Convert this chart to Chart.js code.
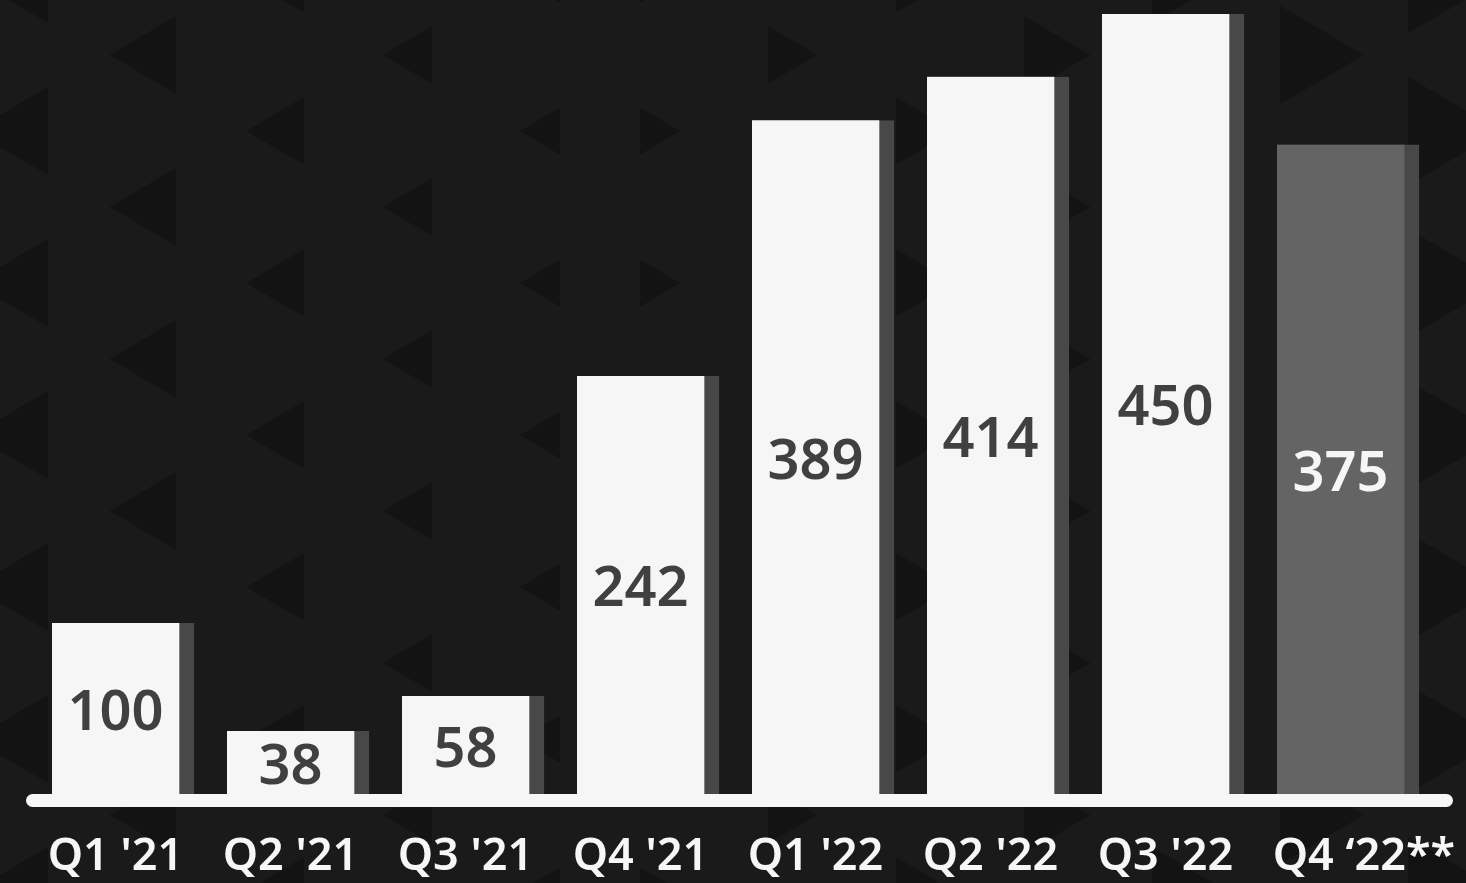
<!DOCTYPE html>
<html>
<head>
<meta charset="utf-8">
<script src="https://cdn.jsdelivr.net/npm/chart.js@4"></script>
<style>
  html, body { margin: 0; padding: 0; background: #1a1a1a; overflow: hidden; }
  #wrap { width: 1466px; height: 883px; }
</style>
</head>
<body>
<div id="wrap"><canvas id="quarterChart"></canvas></div>
<script>
// Quarterly totals, last quarter is a forecast (marked **)
const quarters = ["Q1 '21", "Q2 '21", "Q3 '21", "Q4 '21", "Q1 '22", "Q2 '22", "Q3 '22", "Q4 \u201822**"];
const values = [100, 38, 58, 242, 389, 414, 450, 375];

const SIDE = 15;          // width of the dark side strip on each bar
const FONT = '"Noto Sans", "Open Sans", sans-serif';

const isForecast = i => quarters[i].endsWith('**');

// dark backdrop with the faint triangle pattern
const backdrop = {
  id: 'backdrop',
  beforeDraw(chart) {
    const { ctx, width, height } = chart;
    ctx.save();
    ctx.fillStyle = '#1a1a1a';
    ctx.fillRect(0, 0, width, height);
    ctx.fillStyle = '#131313';
    const mid = 600;
    for (let k = 0; k < 12; k++) {
      const d = 40 + k * 128;
      const h = 44 + 0.08 * d;
      const w = 0.85 * h;
      const y0 = k % 2 === 0 ? 131 : 55;
      for (let y = y0 - 152; y < height + 152; y += 152) {
        for (const side of [-1, 1]) {
          const edge = mid + side * d;
          ctx.beginPath();
          ctx.moveTo(edge, y - h / 2);
          ctx.lineTo(edge, y + h / 2);
          ctx.lineTo(edge + side * w, y);
          ctx.closePath();
          ctx.fill();
        }
      }
    }
    ctx.restore();
  }
};

// thick rounded base line under the bars
const baseLine = {
  id: 'baseLine',
  afterDatasetsDraw(chart) {
    const { ctx, chartArea } = chart;
    ctx.save();
    ctx.strokeStyle = '#f6f6f6';
    ctx.lineWidth = 13;
    ctx.lineCap = 'round';
    ctx.beginPath();
    ctx.moveTo(chartArea.left - 3, chartArea.bottom + 3.5);
    ctx.lineTo(chartArea.right + 11, chartArea.bottom + 3.5);
    ctx.stroke();
    ctx.restore();
  }
};

// value printed in the middle of each bar face
const valueLabels = {
  id: 'valueLabels',
  afterDatasetsDraw(chart) {
    const { ctx } = chart;
    const meta = chart.getDatasetMeta(0);
    const size = 56;
    ctx.save();
    ctx.font = '600 ' + size + 'px ' + FONT;
    ctx.textAlign = 'center';
    ctx.textBaseline = 'alphabetic';
    meta.data.forEach((bar, i) => {
      const { x, y, base } = bar.getProps(['x', 'y', 'base'], true);
      ctx.fillStyle = isForecast(i) ? '#f6f6f6' : '#404040';
      ctx.fillText(String(values[i]), x - SIDE / 2, (y + base) / 2 + size * 0.357);
    });
    ctx.restore();
  }
};

new Chart(document.getElementById('quarterChart'), {
  type: 'bar',
  data: {
    labels: quarters,
    datasets: [{
      data: values,
      backgroundColor: ctx => isForecast(ctx.dataIndex) ? '#646464' : '#f6f6f6',
      borderColor: '#484848',
      borderWidth: { top: 0, right: SIDE, bottom: 0, left: 0 },
      borderSkipped: false,
      barThickness: 142
    }]
  },
  options: {
    responsive: true,
    maintainAspectRatio: false,
    animation: false,
    layout: { padding: { left: 35.5, right: 30.5, top: 14, bottom: 0 } },
    plugins: {
      legend: { display: false },
      tooltip: { enabled: false }
    },
    scales: {
      y: { display: false, min: 0, max: 450 },
      x: {
        grid: { display: false, drawTicks: false },
        border: { display: false },
        afterFit: scale => {
          scale.height = 86;
          // let the outer labels overhang instead of squeezing the bars
          scale.paddingLeft = 0;
          scale.paddingRight = 0;
        },
        ticks: {
          color: '#f6f6f6',
          font: { family: FONT, size: 45, weight: 600 },
          padding: 33,
          labelOffset: -SIDE / 2,
          maxRotation: 0,
          autoSkip: false,
          // the footnote marks hang to the right of the bar
          callback: (v, i) => isForecast(i) ? '    ' + quarters[i] : quarters[i]
        }
      }
    }
  },
  plugins: [backdrop, baseLine, valueLabels]
});
</script>
</body>
</html>
